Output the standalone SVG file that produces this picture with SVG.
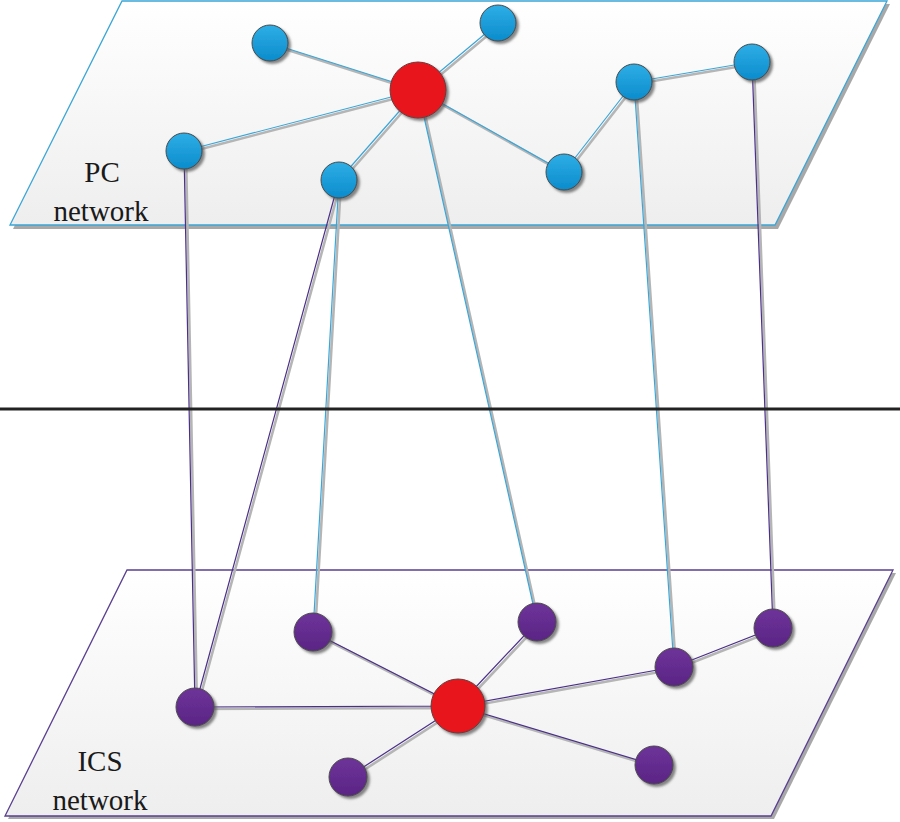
<svg xmlns="http://www.w3.org/2000/svg" width="900" height="822" viewBox="0 0 900 822">
<defs>
<linearGradient id="plane" x1="0" y1="0" x2="0" y2="1">
<stop offset="0" stop-color="#ffffff"/>
<stop offset="1" stop-color="#eeeeee"/>
</linearGradient>
<linearGradient id="blue" x1="0" y1="0" x2="0" y2="1">
<stop offset="0" stop-color="#2eaee6"/>
<stop offset="1" stop-color="#0b8ccc"/>
</linearGradient>
<linearGradient id="purple" x1="0" y1="0" x2="0" y2="1">
<stop offset="0" stop-color="#6e3399"/>
<stop offset="1" stop-color="#5a2585"/>
</linearGradient>
<filter id="sh" x="-30%" y="-30%" width="170%" height="170%">
<feDropShadow dx="2.5" dy="2.5" stdDeviation="1.2" flood-color="#555" flood-opacity="0.7"/>
</filter>
</defs>
<style>
.sh{fill:none;stroke:#b5b5b5;stroke-width:2.6}
.cb{fill:none;stroke:#3aa6d8;stroke-width:1.2}
.cp{fill:none;stroke:#4b2f88;stroke-width:1.2}
.nb{fill:url(#blue);stroke:#4a4a4a;stroke-width:1;filter:url(#sh)}
.np{fill:url(#purple);stroke:#4a4a4a;stroke-width:1;filter:url(#sh)}
.nr{fill:#e8161d;stroke:#6a3a3a;stroke-width:1;filter:url(#sh)}
.lbl{font-family:"Liberation Serif",serif;font-size:29px;fill:#1a1a1a;text-anchor:middle}
</style>
<rect width="900" height="822" fill="#ffffff"/>
<g id="pc-plane">
<polygon points="125,4 890,4 778,229 13,229" fill="#a8a8a8"/>
<polygon points="122,1 887,1 775,225 10,225" fill="url(#plane)" stroke="#3ba5d6" stroke-width="1.3"/>
<text class="lbl" x="102" y="182">PC</text>
<text class="lbl" x="101" y="221">network</text>
</g>
<g id="ics-plane">
<polygon points="130,573 896,573 774,819 8,819" fill="#a8a8a8"/>
<polygon points="127,570 893,570 771,816 5,816" fill="url(#plane)" stroke="#5a3f90" stroke-width="1.3"/>
<text class="lbl" x="100" y="771">ICS</text>
<text class="lbl" x="100" y="810">network</text>
</g>
<g id="connectors">
<g transform="translate(2,2)">
<path class="sh" d="M418,90 L270,43 M418,90 L498,23 M418,90 L184,151 M418,90 L339,180 M418,90 L564,172 M564,172 L634,82 M634,82 L752,62"/>
<path class="sh" d="M458,706 L313,632 M458,706 L195,707 M458,706 L348,777 M458,706 L537,622 M458,706 L674,667 M458,706 L654,765 M674,667 L773,628"/>
<path class="sh" d="M184,151 L195,707 M339,180 L195,707 M339,180 L313,632 M418,90 L537,622 M634,82 L674,667 M752,62 L773,628"/>
</g>
<path class="cb" d="M418,90 L270,43 M418,90 L498,23 M418,90 L184,151 M418,90 L339,180 M418,90 L564,172 M564,172 L634,82 M634,82 L752,62"/>
<path class="cp" d="M458,706 L313,632 M458,706 L195,707 M458,706 L348,777 M458,706 L537,622 M458,706 L674,667 M458,706 L654,765 M674,667 L773,628"/>
<path class="cp" d="M184,151 L195,707 M339,180 L195,707 M752,62 L773,628"/>
<path class="cb" d="M339,180 L313,632 M418,90 L537,622 M634,82 L674,667"/>
</g>
<line id="divider" x1="0" y1="409" x2="900" y2="409" stroke="#222" stroke-width="3"/>
<g id="pc-hub"><circle class="nr" cx="418" cy="90" r="28"/></g>
<g id="pc1"><circle class="nb" cx="270" cy="43" r="18"/></g>
<g id="pc2"><circle class="nb" cx="498" cy="23" r="18"/></g>
<g id="pc3"><circle class="nb" cx="184" cy="151" r="18"/></g>
<g id="pc4"><circle class="nb" cx="339" cy="180" r="18"/></g>
<g id="pc5"><circle class="nb" cx="564" cy="172" r="18"/></g>
<g id="pc6"><circle class="nb" cx="634" cy="82" r="18"/></g>
<g id="pc7"><circle class="nb" cx="752" cy="62" r="18"/></g>
<g id="ics-hub"><circle class="nr" cx="458" cy="706" r="27"/></g>
<g id="ics1"><circle class="np" cx="313" cy="632" r="19"/></g>
<g id="ics2"><circle class="np" cx="195" cy="707" r="19"/></g>
<g id="ics3"><circle class="np" cx="348" cy="777" r="19"/></g>
<g id="ics4"><circle class="np" cx="537" cy="622" r="19"/></g>
<g id="ics5"><circle class="np" cx="674" cy="667" r="19"/></g>
<g id="ics6"><circle class="np" cx="773" cy="628" r="19"/></g>
<g id="ics7"><circle class="np" cx="654" cy="765" r="19"/></g>
</svg>
